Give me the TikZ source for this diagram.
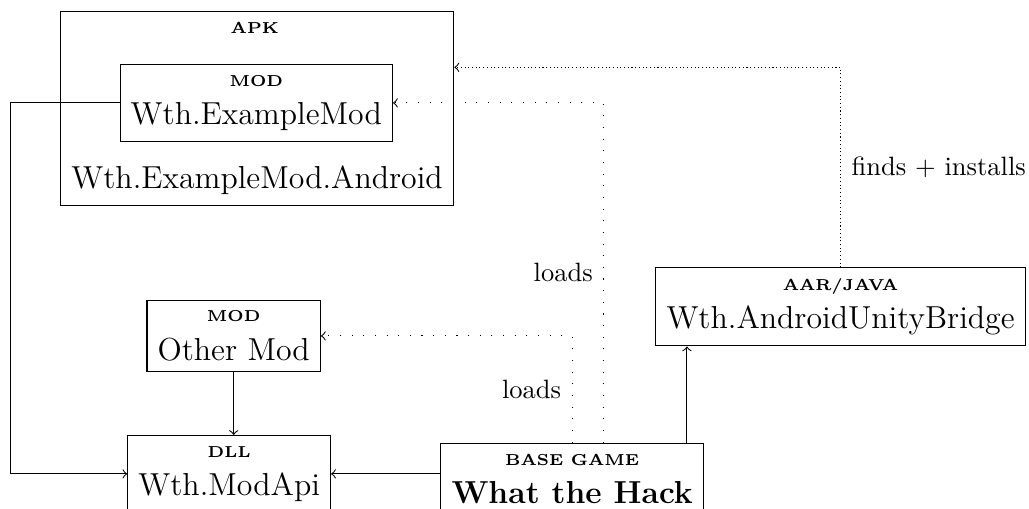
\documentclass[tikz,border=0pt,12pt]{standalone}
\usetikzlibrary{arrows,positioning,fit}

\newcommand{\kindlabel}[1]{{\tiny\bfseries #1}}

\tikzset{
  comp/.style={draw, align=center},
  loads/.style={->, loosely dotted},
  finds/.style={->, densely dotted},
  says/.style={font=\footnotesize},
}

\begin{document}
\begin{tikzpicture}

\useasboundingbox (0,0) rectangle (13.65,6.75);

% apk with the mod inside
\node[comp] (mod) at (3.40,5.385) {\kindlabel{MOD}\\Wth.ExampleMod};
\node[inner sep=0] (apklab) at (3.38,6.38) {\kindlabel{APK}};
\node[inner sep=0] (android) at (3.41,4.363) {Wth.ExampleMod.Android};
\node[draw, fit=(apklab)(mod)(android)] (apk) {};

\node[comp] (othermod) at (3.10,2.294) {\kindlabel{MOD}\\Other Mod};
\node[comp] (modapi) at (3.04,0.464) {\kindlabel{DLL}\\Wth.ModApi};
\node[comp] (basegame) at (7.59,0.398) {\kindlabel{BASE GAME}\\\textbf{What the Hack}};
\node[comp] (bridge) at (11.15,2.679) {\kindlabel{AAR/JAVA}\\Wth.AndroidUnityBridge};

\coordinate (bgup) at ([xshift=-0.225cm]basegame.north east);
\coordinate (bgload) at ([xshift=0.42cm]basegame.north);
\coordinate (apkin) at ([yshift=0.544cm]apk.east);

\draw[->] (mod.west) -- ++(-1.45,0) |- (modapi.west);
\draw[->] (othermod.south) -- (othermod.south |- modapi.north);
\draw[->] (modapi.east -| basegame.west) -- (modapi.east);
\draw[->] (bgup) -- (bgup |- bridge.south);

\draw[loads] (bgload) |- (mod.east) node[says, pos=0.25, left] {loads};
\draw[loads] (basegame.north) |- (othermod.east) node[says, pos=0.25, left] {loads};
\draw[finds] (bridge.north) |- (apkin) node[says, pos=0.25, right] {finds + installs};

\end{tikzpicture}
\end{document}
